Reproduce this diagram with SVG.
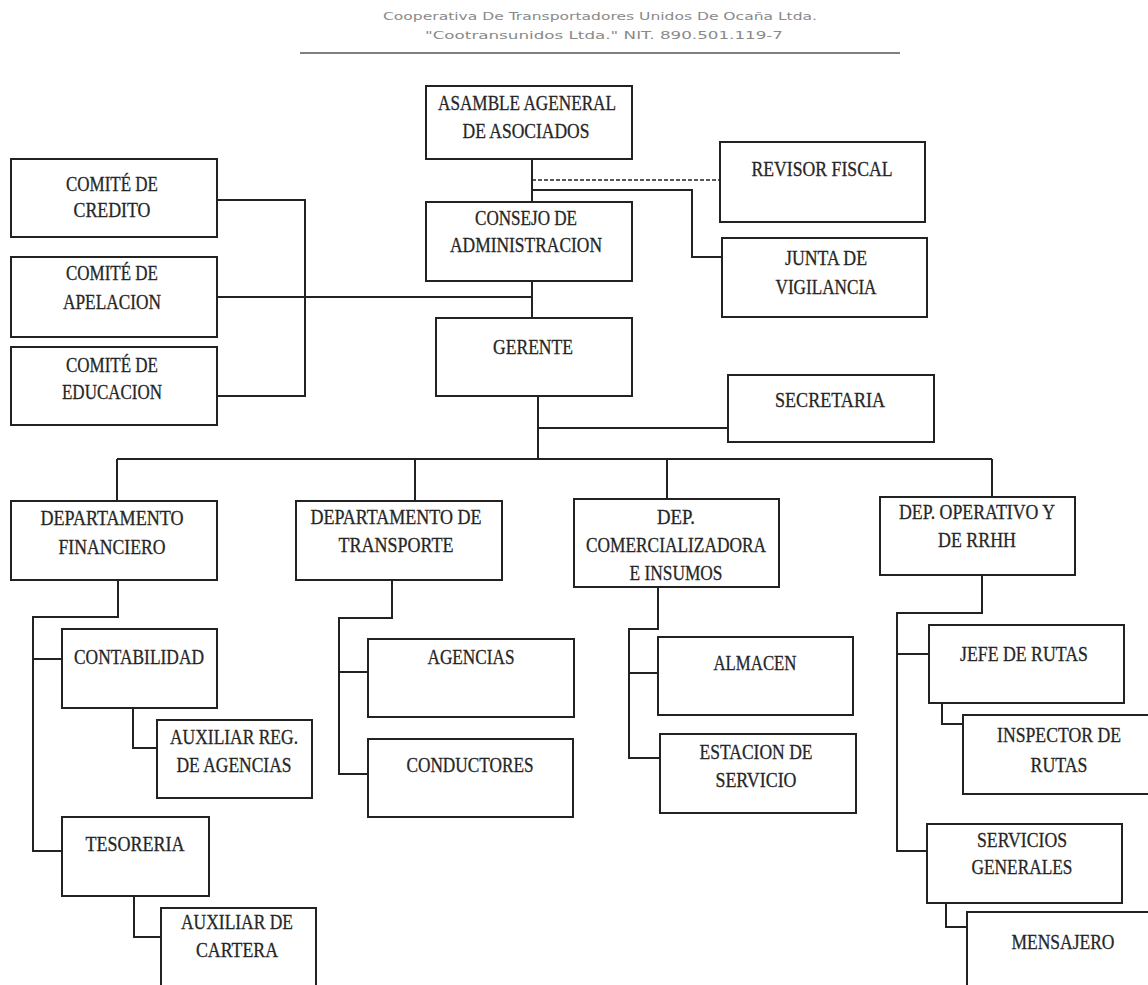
<svg xmlns="http://www.w3.org/2000/svg" width="1148" height="985" viewBox="0 0 1148 985">
<style>
.bg{fill:#fff}
.box{fill:#fff;stroke:#222;stroke-width:2}
.c{fill:none;stroke:#222;stroke-width:2}
.d{fill:none;stroke:#222;stroke-width:1.6;stroke-dasharray:4 2}
.t{font-family:"Liberation Serif",serif;font-size:21px;fill:#262626;stroke:#262626;stroke-width:0.3;text-anchor:middle}
.h{font-family:"DejaVu Sans","Liberation Sans",sans-serif;font-size:10.5px;fill:#8a8a8a;text-anchor:middle}
</style>
<rect class="bg" x="0" y="0" width="1148" height="985"/>
<g id="header">
<text class="h" x="600" y="20" textLength="434" lengthAdjust="spacingAndGlyphs">Cooperativa De Transportadores Unidos De Ocaña Ltda.</text>
<text class="h" x="604" y="39" textLength="358" lengthAdjust="spacingAndGlyphs">"Cootransunidos  Ltda." NIT. 890.501.119-7</text>
<line x1="300" y1="53" x2="900" y2="53" stroke="#555" stroke-width="1.5"/>
</g>
<g id="connectors">
<path class="c" d="M532 159V202M532 190H692V257H722M532 281V318"/>
<path class="d" d="M532 180H720"/>
<path class="c" d="M217 200H305V396H217M217 297H532"/>
<path class="c" d="M538 396V459M538 428H728M117 459H992M117 459V501M415 459V501M667 459V499M992 459V497"/>
<path class="c" d="M118 580V617H33V851H62M33 659H62M133 708V748H157M134 896V937H161"/>
<path class="c" d="M392 580V618H339V774H368M339 672H368"/>
<path class="c" d="M658 587V629H629V758H660M629 673H658"/>
<path class="c" d="M982 575V613H897V851H927M897 654H929M942 703V724H963M946 903V927H967"/>
</g>
<g id="asamblea"><rect class="box" x="426" y="86" width="206" height="73"/>
<text class="t" x="527" y="110" textLength="178" lengthAdjust="spacingAndGlyphs">ASAMBLE AGENERAL</text>
<text class="t" x="526" y="138" textLength="127" lengthAdjust="spacingAndGlyphs">DE ASOCIADOS</text></g>
<g id="consejo"><rect class="box" x="426" y="202" width="206" height="79"/>
<text class="t" x="526" y="225" textLength="102" lengthAdjust="spacingAndGlyphs">CONSEJO DE</text>
<text class="t" x="526" y="252" textLength="152" lengthAdjust="spacingAndGlyphs">ADMINISTRACION</text></g>
<g id="gerente"><rect class="box" x="436" y="318" width="196" height="78"/>
<text class="t" x="533" y="354" textLength="80" lengthAdjust="spacingAndGlyphs">GERENTE</text></g>
<g id="revisor"><rect class="box" x="720" y="142" width="205" height="80"/>
<text class="t" x="822" y="176" textLength="141" lengthAdjust="spacingAndGlyphs">REVISOR FISCAL</text></g>
<g id="junta"><rect class="box" x="722" y="238" width="205" height="79"/>
<text class="t" x="826" y="265" textLength="82" lengthAdjust="spacingAndGlyphs">JUNTA DE</text>
<text class="t" x="826" y="294" textLength="101" lengthAdjust="spacingAndGlyphs">VIGILANCIA</text></g>
<g id="secretaria"><rect class="box" x="728" y="375" width="206" height="67"/>
<text class="t" x="830" y="407" textLength="110" lengthAdjust="spacingAndGlyphs">SECRETARIA</text></g>
<g id="comite-credito"><rect class="box" x="11" y="159" width="206" height="78"/>
<text class="t" x="112" y="191" textLength="92" lengthAdjust="spacingAndGlyphs">COMITÉ DE</text>
<text class="t" x="112" y="217" textLength="77" lengthAdjust="spacingAndGlyphs">CREDITO</text></g>
<g id="comite-apelacion"><rect class="box" x="11" y="257" width="206" height="80"/>
<text class="t" x="112" y="280" textLength="92" lengthAdjust="spacingAndGlyphs">COMITÉ DE</text>
<text class="t" x="112" y="309" textLength="98" lengthAdjust="spacingAndGlyphs">APELACION</text></g>
<g id="comite-educacion"><rect class="box" x="11" y="347" width="206" height="78"/>
<text class="t" x="112" y="372" textLength="92" lengthAdjust="spacingAndGlyphs">COMITÉ DE</text>
<text class="t" x="112" y="399" textLength="100" lengthAdjust="spacingAndGlyphs">EDUCACION</text></g>
<g id="dep-financiero"><rect class="box" x="11" y="501" width="206" height="79"/>
<text class="t" x="112" y="525" textLength="143" lengthAdjust="spacingAndGlyphs">DEPARTAMENTO</text>
<text class="t" x="112" y="554" textLength="107" lengthAdjust="spacingAndGlyphs">FINANCIERO</text></g>
<g id="dep-transporte"><rect class="box" x="296" y="501" width="206" height="79"/>
<text class="t" x="396" y="524" textLength="171" lengthAdjust="spacingAndGlyphs">DEPARTAMENTO DE</text>
<text class="t" x="396" y="552" textLength="115" lengthAdjust="spacingAndGlyphs">TRANSPORTE</text></g>
<g id="dep-comercializadora"><rect class="box" x="574" y="499" width="205" height="88"/>
<text class="t" x="676" y="524" textLength="38" lengthAdjust="spacingAndGlyphs">DEP.</text>
<text class="t" x="676" y="552" textLength="180" lengthAdjust="spacingAndGlyphs">COMERCIALIZADORA</text>
<text class="t" x="676" y="580" textLength="93" lengthAdjust="spacingAndGlyphs">E INSUMOS</text></g>
<g id="dep-operativo"><rect class="box" x="880" y="497" width="195" height="78"/>
<text class="t" x="977" y="519" textLength="156" lengthAdjust="spacingAndGlyphs">DEP. OPERATIVO Y</text>
<text class="t" x="977" y="547" textLength="78" lengthAdjust="spacingAndGlyphs">DE RRHH</text></g>
<g id="contabilidad"><rect class="box" x="62" y="629" width="155" height="79"/>
<text class="t" x="139" y="664" textLength="130" lengthAdjust="spacingAndGlyphs">CONTABILIDAD</text></g>
<g id="auxiliar-reg"><rect class="box" x="157" y="720" width="155" height="78"/>
<text class="t" x="234" y="744" textLength="128" lengthAdjust="spacingAndGlyphs">AUXILIAR REG.</text>
<text class="t" x="234" y="772" textLength="115" lengthAdjust="spacingAndGlyphs">DE AGENCIAS</text></g>
<g id="tesoreria"><rect class="box" x="62" y="817" width="147" height="79"/>
<text class="t" x="135" y="851" textLength="99" lengthAdjust="spacingAndGlyphs">TESORERIA</text></g>
<g id="auxiliar-cartera"><rect class="box" x="161" y="908" width="155" height="100"/>
<text class="t" x="237" y="929" textLength="112" lengthAdjust="spacingAndGlyphs">AUXILIAR DE</text>
<text class="t" x="237" y="957" textLength="82" lengthAdjust="spacingAndGlyphs">CARTERA</text></g>
<g id="agencias"><rect class="box" x="368" y="639" width="206" height="78"/>
<text class="t" x="471" y="664" textLength="87" lengthAdjust="spacingAndGlyphs">AGENCIAS</text></g>
<g id="conductores"><rect class="box" x="368" y="739" width="205" height="78"/>
<text class="t" x="470" y="772" textLength="127" lengthAdjust="spacingAndGlyphs">CONDUCTORES</text></g>
<g id="almacen"><rect class="box" x="658" y="637" width="195" height="78"/>
<text class="t" x="755" y="670" textLength="83" lengthAdjust="spacingAndGlyphs">ALMACEN</text></g>
<g id="estacion"><rect class="box" x="660" y="734" width="196" height="79"/>
<text class="t" x="756" y="759" textLength="113" lengthAdjust="spacingAndGlyphs">ESTACION DE</text>
<text class="t" x="756" y="787" textLength="81" lengthAdjust="spacingAndGlyphs">SERVICIO</text></g>
<g id="jefe-rutas"><rect class="box" x="929" y="625" width="195" height="78"/>
<text class="t" x="1024" y="661" textLength="128" lengthAdjust="spacingAndGlyphs">JEFE DE RUTAS</text></g>
<g id="inspector"><rect class="box" x="963" y="715" width="200" height="79"/>
<text class="t" x="1059" y="742" textLength="124" lengthAdjust="spacingAndGlyphs">INSPECTOR DE</text>
<text class="t" x="1059" y="772" textLength="57" lengthAdjust="spacingAndGlyphs">RUTAS</text></g>
<g id="servicios-generales"><rect class="box" x="927" y="824" width="195" height="79"/>
<text class="t" x="1022" y="847" textLength="90" lengthAdjust="spacingAndGlyphs">SERVICIOS</text>
<text class="t" x="1022" y="874" textLength="101" lengthAdjust="spacingAndGlyphs">GENERALES</text></g>
<g id="mensajero"><rect class="box" x="967" y="912" width="200" height="100"/>
<text class="t" x="1063" y="949" textLength="103" lengthAdjust="spacingAndGlyphs">MENSAJERO</text></g>
</svg>
